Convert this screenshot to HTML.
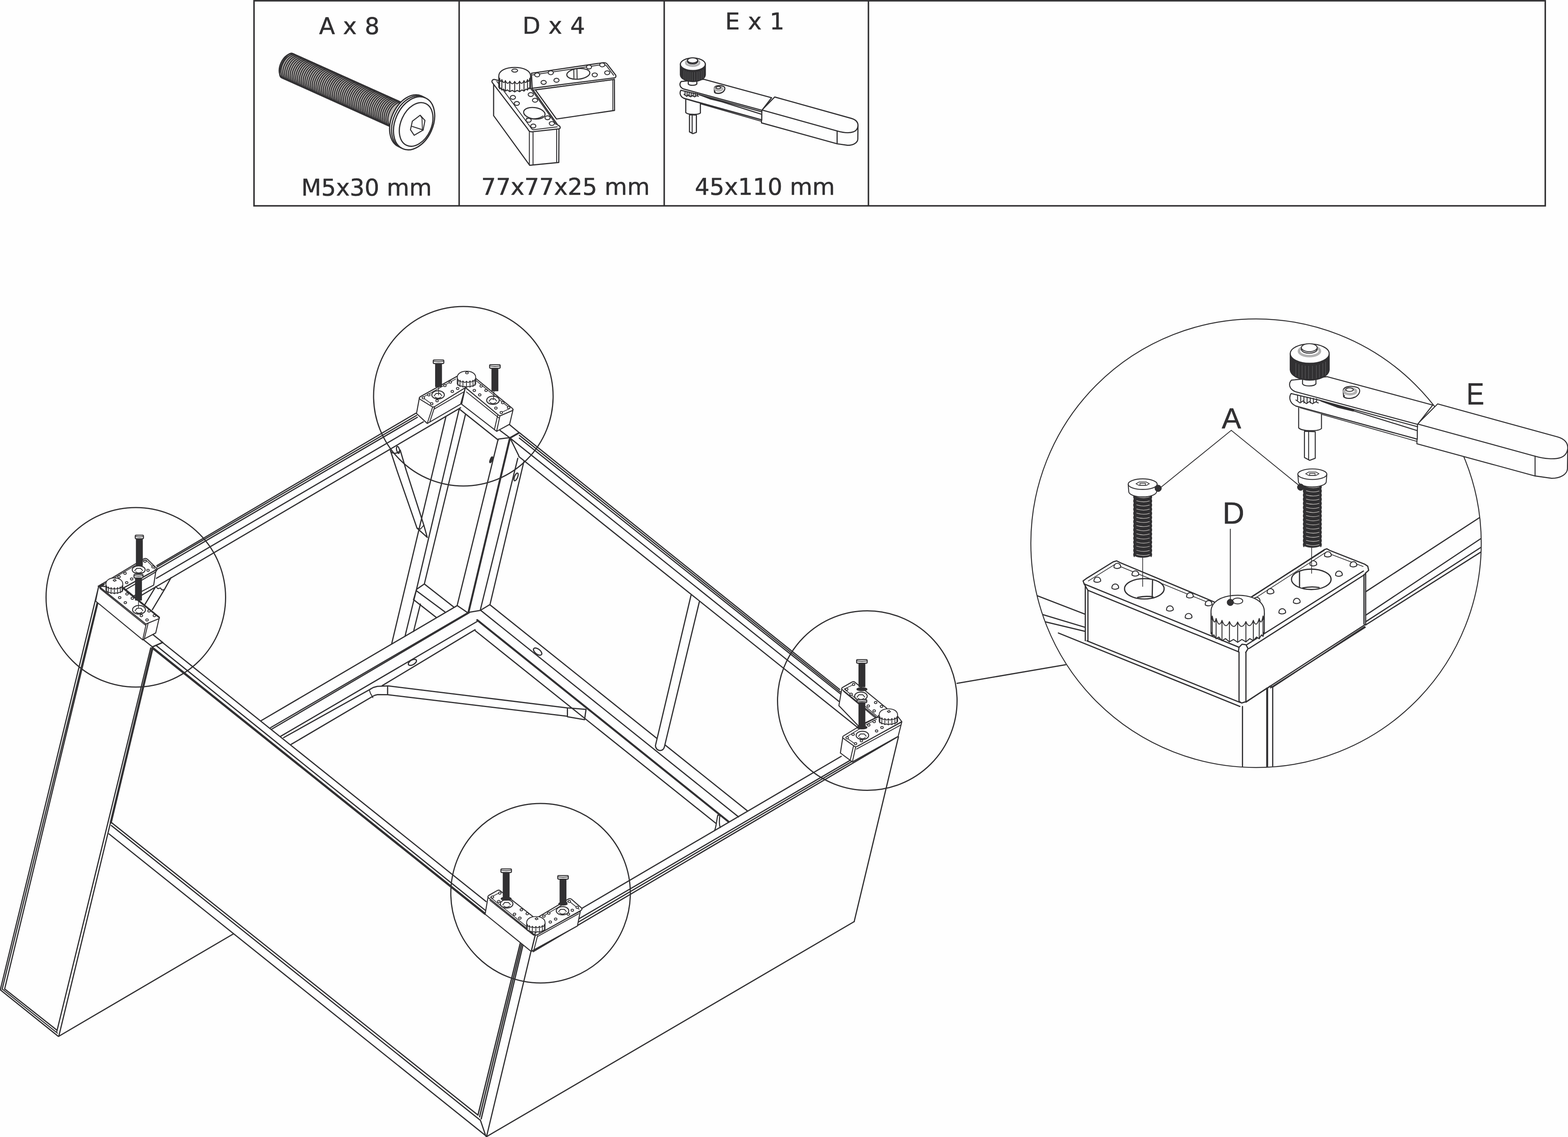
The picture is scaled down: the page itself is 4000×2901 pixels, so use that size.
<!DOCTYPE html>
<html><head><meta charset="utf-8"><title>Assembly step</title>
<style>
html,body{margin:0;padding:0;background:#fefefe;}
body{width:4000px;height:2901px;overflow:hidden;}
svg{display:block;}
svg .f{fill:#313032;}
svg .wf{fill:#fefefe;}
svg text{fill:#313032;stroke:#313032;stroke-width:0.7px;stroke-linejoin:round;}
.dv{font-family:"DejaVu Sans","Liberation Sans",sans-serif;}
.lb{font-family:"Liberation Sans","DejaVu Sans",sans-serif;}
</style></head><body>
<svg width="4000" height="2901" viewBox="0 0 4000 2901" fill="none" stroke="#313032" stroke-width="3.05" stroke-linecap="round" stroke-linejoin="round">
<g id="table">
<rect x="648" y="2" width="3294" height="523.2" stroke-width="3.8" stroke-linejoin="miter"/>
<path d="M1171.3 2 L1171.3 525.2" stroke-width="3.8"/>
<path d="M1694.4 2 L1694.4 525.2" stroke-width="3.8"/>
<path d="M2215.4 2 L2215.4 525.2" stroke-width="3.8"/>
</g>
<g id="labels">
<text x="814" y="86.8" font-size="59.2" class="dv" text-anchor="start" letter-spacing="0.85">A x 8</text>
<text x="1333" y="86" font-size="59.2" class="dv" text-anchor="start" letter-spacing="0.85">D x 4</text>
<text x="1850" y="75" font-size="59.2" class="dv" text-anchor="start" letter-spacing="0.85">E x 1</text>
<text x="768.5" y="498.8" font-size="59.2" class="dv" text-anchor="start">M5x30 mm</text>
<text x="1227.5" y="497" font-size="59.2" class="dv" text-anchor="start">77x77x25 mm</text>
<text x="1772.5" y="497" font-size="59.2" class="dv" text-anchor="start">45x110 mm</text>
</g>
<g id="circles">
<circle cx="1182" cy="1011" r="229" stroke-width="3"/>
<circle cx="346.5" cy="1524" r="229" stroke-width="3"/>
<circle cx="2212.5" cy="1787.5" r="229" stroke-width="3"/>
<circle cx="1379" cy="2279" r="229" stroke-width="3"/>
<path d="M2441.5 1743.5 L2718.5 1696" stroke-width="3"/>
</g>
<g id="rails">
<path d="M400 1443.2 L1061 1054.3"/>
<path d="M401 1446.5 L1062.5 1060"/>
<path d="M402 1451.8 L1064.5 1064.7"/>
<path d="M399 1475.5 L1080 1076.3"/>
<path d="M362 1518.2 L1175 1040.4"/>
<path d="M1325 1104 L2142 1759.1"/>
<path d="M1325 1110.7 L2144 1765.6"/>
<path d="M1325 1117.9 L2146 1771.9"/>
<path d="M1300 1116.7 L2140 1789.5"/>
<path d="M1172 1043.7 L1271 1122.8"/>
<path d="M1323.6 1164.9 L2190 1857.9"/>
<path d="M410 1635.6 L1240 2300.3"/>
<path d="M398 1646.7 L1238 2322.6"/>
<path d="M392 1655.2 L1237 2331.3" stroke-width="5.6"/>
<path d="M1485 2317.3 L2146 1929.7"/>
<path d="M1475 2345.4 L2174 1936.9"/>
<path d="M1474 2353.5 L2174 1942.4"/>
<path d="M1360 2428.1 L2291 1879.1"/>
</g>
<g id="cross">
<path d="M1250 1543.2 L1906.5 2068.7"/>
<path d="M1227.5 1558.3 L1884 2084.3"/>
<path d="M1217.5 1582.1 L1859 2096.9" stroke-width="5"/>
<path d="M1212.5 1609.4 L1826.5 2100.9"/>
<path d="M665.3 1839.3 L1166 1545.4"/>
<path d="M690 1856.8 L1195 1562.3" stroke-width="3"/>
<path d="M693 1860.5 L1197 1563.4" stroke-width="3"/>
<path d="M716.4 1878.4 L1217 1585.8"/>
<path d="M975 1749.4 L1212 1606.6"/>
<path d="M723.5 1882 L945 1758.3"/>
<path d="M742.9 1899.1 L951 1776.6"/>
<ellipse cx="1371.5" cy="1662.5" rx="12.5" ry="6.5" stroke-width="3" transform="rotate(38 1371.5 1662.5)"/>
<ellipse cx="1052" cy="1690" rx="11.5" ry="6" stroke-width="3" transform="rotate(-30 1052 1690)"/>
</g>
<g id="legs">
<path d="M1137.4 1063.7 L999 1643.4"/>
<path d="M1171.2 1044.7 L1062.5 1503.8 L1036.2 1611"/>
<path d="M1036.2 1611 L1033.3 1623.3"/>
<path d="M1187.4 1057.4 L1082.5 1490 L1062.5 1503.8 L1055 1530"/>
<path d="M1082.5 1490 L1157.5 1548.8"/>
<path d="M1062.5 1507.5 L1135 1561.2"/>
<path d="M1055 1530 L1112.5 1575"/>
<path d="M1072.5 1541.2 L1055 1611"/>
<path d="M1055 1611 L1055.1 1610.5"/>
<path d="M1270.7 1120.9 L1166.2 1545 L1193.8 1563.8"/>
<path d="M1301 1117.4 L1195 1562.5" stroke-width="5"/>
<path d="M1320.8 1169.6 L1225 1557.5 L1195 1562.5"/>
<path d="M1336.3 1178 L1250 1542.5 L1225 1557.5"/>
<ellipse cx="1253.1" cy="1173.1" rx="2.2" ry="7.5" transform="rotate(22 1253.1 1173.1)" stroke-width="3.4" class="f"/>
<ellipse cx="1316.5" cy="1216.8" rx="4" ry="10.5" transform="rotate(22 1316.5 1216.8)" stroke-width="3"/>
<path d="M1298.2 1082.1 L1323.6 1103.2"/>
<path d="M1275.6 1098.3 L1301 1117.4"/>
<path d="M1301 1117.4 L1323.6 1104.7" stroke-width="4.2"/>
<path d="M1271.4 1120.2 L1301 1116.4"/>
<path d="M1301 1117.4 L1323.6 1163.2"/>
<path d="M436.3 1473.8 L419.3 1504.4 L388.7 1555.5"/>
<path d="M397.2 1496.8 L369.9 1541.9"/>
<path d="M397.2 1496.8 L403.1 1501.9 L409.1 1500.2 L413.3 1505.3 L419.3 1504.4" stroke-width="2.6"/>
<path d="M996 1149.7 L1012.5 1200 L1063.8 1347.5 L1090 1371.2 L1081.2 1340 L1036.2 1200 L1021 1148.5"/>
<path d="M1063.8 1347.5 L1072.5 1350 L1081.2 1340" stroke-width="2.4"/>
<path d="M996.0 1149.1 C998.5 1158.4 1013.5 1159.7 1021.0 1148.5" stroke-width="2.8"/>
<ellipse cx="1015.4" cy="1147.8" rx="3.6" ry="9" transform="rotate(-12 1015.4 1147.8)" stroke-width="3"/>
</g>
<g id="panels">
<path d="M251.5 1497.5 L0.9 2525"/>
<path d="M248.2 1536 L5.5 2524"/>
<path d="M249.1 1541 L11.7 2524"/>
<path d="M0.8 2525.5 L148.5 2644"/>
<path d="M7 2524.5 L146.5 2636" stroke-width="2.6"/>
<path d="M13.5 2524.5 L144 2627.5"/>
<path d="M384.5 1653 L145 2631.5"/>
<path d="M390 1652 L150 2644"/>
<path d="M389.2 1652.3 L282.6 2099" stroke-width="5.4"/>
<path d="M330 1603.4 L389.6 1651.1"/>
<path d="M388.7 1650.6 L415.1 1639.1" stroke-width="3.6"/>
<path d="M389.6 1618.7 L415.1 1639.1"/>
<path d="M285 2099.2 L1219.5 2845.2"/>
<path d="M284 2106.2 L1225 2858"/>
<path d="M278 2127.6 L1239.3 2897.7"/>
<path d="M1225.8 2858.9 L1239.3 2898.4"/>
<path d="M150 2644 L595 2383"/>
<path d="M1327.6 2405 L1219.5 2844.3" stroke-width="3.3"/>
<path d="M1331.6 2405 L1223.5 2849.5" stroke-width="3.3"/>
<path d="M1335.6 2405 L1227.6 2854.7" stroke-width="3.3"/>
<path d="M1354.3 2428.5 L1241.2 2900"/>
<path d="M1240.5 2900.5 L2179 2351.5"/>
<path d="M2292 1880 L2179 2351.5"/>
</g>
<g id="brace">
<path d="M945 1758.2 L952.5 1754 L962.5 1751.2 L990 1750 L1447.5 1806.2"/>
<path d="M951 1776.5 L956.2 1774 L963.2 1772.2 L988.8 1772.5 L1447.5 1827.5"/>
<path d="M942 1760 L945 1768.8 L951.2 1780" stroke-width="2.4"/>
<path d="M988.8 1750.8 L988.8 1772.5"/>
<path d="M1447.5 1806.2 L1447.5 1827.5"/>
<path d="M1762.8 1518.9 L1672.0 1902.5 Q1673.0 1913.0 1683.0 1915.0 Q1693.0 1915.0 1695.0 1905.0 L1784.2 1534.9" class="wf"/>
<path d="M1831.1 2079.6 C1827.3 2096.4 1827.3 2110.5 1822.7 2119.3 M1831.1 2079.6 L1836.4 2080.5 C1834.3 2094.6 1835.0 2105.2 1837.3 2111.4" stroke-width="2.8"/>
<path d="M1450 1806.2 L1495 1810 L1491.2 1836.2 L1447.5 1828.8"/>
</g>
<g id="brackets">
<path d="M 315.5 1500.2 L 401.4 1452.5 L 397.2 1459.3 L 392.1 1492.9 L 363.1 1508.2 L 329.1 1527.4 Z" stroke-width="2.6" class="wf"/>
<path d="M 319.2 1505.3 L 397.2 1459.3" stroke-width="2.6"/>
<path d="M 251.7 1495.1 L 366.5 1426.2 C 369.9 1424.1 373.7 1424.8 376.4 1427.2 L 401.4 1452.0 L 315.5 1499.7 Z" stroke-width="2.6" class="wf"/>
<path d="M 255.9 1495.6 L 367.4 1429.6 C 369.9 1428.2 372.5 1428.7 374.2 1430.4 L 397.2 1453.4" stroke-width="1.8"/>
<path d="M 251.7 1496.3 L 244.0 1533.7 L 364.0 1632.4 L 397.2 1615.0 L 406.0 1577.2 L 373.0 1591.5 Z" stroke-width="2.6" class="wf"/>
<path d="M 373.0 1591.5 L 364.0 1632.4 M 377.6 1591.2 L 368.2 1630.0" stroke-width="2.4"/>
<path d="M 251.7 1495.6 L 315.5 1499.7 L 405.7 1574.2 C 407.4 1576.2 407.0 1577.9 405.3 1578.6 L 373.7 1591.5 C 371.6 1592.2 370.3 1591.2 369.1 1589.8 Z" stroke-width="2.6" class="wf"/>
<path d="M 312.1 1499.3 L 405.7 1575.0" stroke-width="4"/>
<path d="M 254.6 1501.4 L 370.8 1594.9" stroke-width="2.2"/>
<path d="M 250.0 1495.6 L 261.0 1489.1 L 266.2 1491.7 L 254.6 1499.3 Z" stroke-width="2" class="f"/>
<ellipse cx="318.9" cy="1462.7" rx="3.3" ry="2.7" class="wf" stroke-width="2"/>
<ellipse cx="303.6" cy="1471.8" rx="3.3" ry="2.7" class="wf" stroke-width="2"/>
<ellipse cx="335.9" cy="1477.2" rx="3.3" ry="2.7" class="wf" stroke-width="2"/>
<ellipse cx="323.2" cy="1486.6" rx="3.3" ry="2.7" class="wf" stroke-width="2"/>
<ellipse cx="369.9" cy="1432.1" rx="3.3" ry="2.7" class="wf" stroke-width="2"/>
<ellipse cx="390.4" cy="1446.6" rx="3.3" ry="2.7" class="wf" stroke-width="2"/>
<ellipse cx="377.6" cy="1455.1" rx="3.3" ry="2.7" class="wf" stroke-width="2"/>
<ellipse cx="324.0" cy="1515.5" rx="3.3" ry="2.7" class="wf" stroke-width="2"/>
<ellipse cx="305.3" cy="1524.8" rx="3.3" ry="2.7" class="wf" stroke-width="2"/>
<ellipse cx="337.6" cy="1526.5" rx="3.3" ry="2.7" class="wf" stroke-width="2"/>
<ellipse cx="319.7" cy="1537.6" rx="3.3" ry="2.7" class="wf" stroke-width="2"/>
<ellipse cx="380.2" cy="1558.9" rx="3.3" ry="2.7" class="wf" stroke-width="2"/>
<ellipse cx="360.6" cy="1570.8" rx="3.3" ry="2.7" class="wf" stroke-width="2"/>
<ellipse cx="393.8" cy="1570.8" rx="3.3" ry="2.7" class="wf" stroke-width="2"/>
<ellipse cx="375.1" cy="1581.8" rx="3.3" ry="2.7" class="wf" stroke-width="2"/>
<ellipse cx="353.8" cy="1453.7" rx="16.5" ry="10.0" class="wf" stroke-width="2.6"/>
<path d="M343.6 1456.2 l5.0 -6.0 l10.2 0 l5.0 5.5 M346.4 1459.2 q7.4 5.5 14.8 0" stroke-width="2.2"/>
<ellipse cx="354.6" cy="1555.8" rx="16.5" ry="11.0" class="wf" stroke-width="2.6"/>
<path d="M344.4 1558.6 l5.0 -6.6 l10.2 0 l5.0 6.1 M347.2 1561.9 q7.4 6.1 14.8 0" stroke-width="2.2"/>
<path d="M270.2 1490.4 L270.2 1506.4 L270.6 1506.0 L271.8 1509.6 L273.8 1509.0 L276.5 1512.3 L279.7 1511.3 L283.4 1514.1 L287.5 1512.5 L291.7 1514.7 L295.9 1512.5 L299.9 1514.1 L303.6 1511.3 L306.9 1512.3 L309.6 1509.0 L311.5 1509.6 L312.8 1506.0 L313.2 1506.4 L313.2 1490.4 C313.2 1480.1 303.5 1474.7 291.7 1474.7 C279.8 1474.7 270.2 1480.1 270.2 1490.4 Z" class="wf" stroke-width="2.2"/>
<path d="M271.8 1495.6 L271.8 1509.6 M276.5 1498.3 L276.5 1512.3 M283.4 1500.1 L283.4 1514.1 M291.7 1500.7 L291.7 1514.7 M299.9 1500.1 L299.9 1514.1 M306.9 1498.3 L306.9 1512.3 M311.5 1495.6 L311.5 1509.6 M270.2 1491.6 Q271.0 1500.0 271.8 1494.8 M271.8 1494.8 Q274.1 1502.9 276.5 1497.5 M276.5 1497.5 Q280.0 1505.2 283.4 1499.3 M283.4 1499.3 Q287.6 1506.4 291.7 1499.9 M291.7 1499.9 Q295.8 1506.4 299.9 1499.3 M299.9 1499.3 Q303.4 1505.2 306.9 1497.5 M306.9 1497.5 Q309.2 1502.9 311.5 1494.8 M311.5 1494.8 Q312.4 1500.0 313.2 1491.6 " stroke-width="1.9800000000000002"/>
<path d="M288.5 1480.3 l5 -2.5 l3 3.5 l-5 2 Z" stroke-width="2"/>
<path d="M347.9 1374.0 L347.9 1443.0 L363.1 1443.0 L363.1 1374.0 Z" class="f" stroke-width="2.4"/>
<path d="M347.0 1365.5 Q345.0 1365.5 345.0 1368.0 L345.0 1372.0 Q345.0 1374.6 348.0 1374.6 L363.0 1374.6 Q366.0 1374.6 366.0 1372.0 L366.0 1368.0 Q366.0 1365.5 364.0 1365.5 Z" class="wf" stroke-width="2.6"/>
<path d="M346.0 1368.9 Q355.5 1371.1 365.0 1368.9" stroke-width="1.8"/>
<path d="M353.3 1530 L353.3 1550" stroke-width="1.8"/>
<path d="M345.7 1474.0 L345.7 1531.0 L360.9 1531.0 L360.9 1474.0 Z" class="f" stroke-width="2.4"/>
<path d="M343.8 1465.5 Q341.8 1465.5 341.8 1468.0 L341.8 1472.0 Q341.8 1474.6 344.8 1474.6 L361.8 1474.6 Q364.8 1474.6 364.8 1472.0 L364.8 1468.0 Q364.8 1465.5 362.8 1465.5 Z" class="wf" stroke-width="2.6"/>
<path d="M342.8 1468.9 Q353.3 1471.1 363.8 1468.9" stroke-width="1.8"/>
<path d="M 1070.0 1014.5 L 1062.5 1055.0 L 1090.0 1080.5 L 1175.0 1031.2 L 1187.0 988.8 L 1103.8 1037.5 Z" stroke-width="2.6" class="wf"/>
<path d="M 1103.8 1038.0 L 1090.0 1080.0 M 1109.5 1036.2 L 1096.2 1077.0" stroke-width="2.4"/>
<path d="M 1107.5 1043.8 L 1183.8 999.5" stroke-width="2.2"/>
<path d="M 1187.0 988.8 L 1177.5 1031.2 L 1267.0 1100.5 L 1300.0 1082.5 L 1309.0 1044.5 L 1275.5 1060.5 Z" stroke-width="2.6" class="wf"/>
<path d="M 1275.5 1060.5 L 1267.0 1100.0 M 1269.5 1060.0 L 1261.2 1096.2" stroke-width="2.4"/>
<path d="M 1190.0 1000.0 L 1272.5 1066.2" stroke-width="2.2"/>
<path d="M 1187.0 988.8 L 1177.5 1031.2" stroke-width="2.6"/>
<path d="M 1166.2 960.0 L 1072.5 1012.0 C 1069.0 1014.0 1069.0 1017.0 1072.0 1019.0 L 1102.0 1037.5 C 1104.5 1039.0 1107.0 1038.5 1109.5 1037.0 L 1187.5 988.8 Z" stroke-width="2.6" class="wf"/>
<path d="M 1162.5 967.0 L 1078.0 1014.0 L 1103.8 1032.5" stroke-width="1.8"/>
<path d="M 1210.0 962.5 L 1306.2 1041.2 C 1309.5 1044.0 1309.0 1046.5 1306.0 1048.0 L 1278.0 1060.0 C 1275.5 1061.0 1273.5 1060.5 1271.5 1059.0 L 1187.5 988.8 Z" stroke-width="2.6" class="wf"/>
<path d="M 1212.5 969.5 L 1301.2 1042.0 L 1276.2 1053.8" stroke-width="1.8"/>
<ellipse cx="1148.8" cy="975.0" rx="3.3" ry="2.7" class="wf" stroke-width="2"/>
<ellipse cx="1135.0" cy="983.8" rx="3.3" ry="2.7" class="wf" stroke-width="2"/>
<ellipse cx="1167.5" cy="991.2" rx="3.3" ry="2.7" class="wf" stroke-width="2"/>
<ellipse cx="1153.8" cy="998.8" rx="3.3" ry="2.7" class="wf" stroke-width="2"/>
<ellipse cx="1093.8" cy="1007.5" rx="3.3" ry="2.7" class="wf" stroke-width="2"/>
<ellipse cx="1080.0" cy="1015.0" rx="3.3" ry="2.7" class="wf" stroke-width="2"/>
<ellipse cx="1115.0" cy="1022.5" rx="3.3" ry="2.7" class="wf" stroke-width="2"/>
<ellipse cx="1101.2" cy="1030.0" rx="3.3" ry="2.7" class="wf" stroke-width="2"/>
<ellipse cx="1227.5" cy="985.0" rx="3.3" ry="2.7" class="wf" stroke-width="2"/>
<ellipse cx="1240.0" cy="996.2" rx="3.3" ry="2.7" class="wf" stroke-width="2"/>
<ellipse cx="1210.0" cy="996.2" rx="3.3" ry="2.7" class="wf" stroke-width="2"/>
<ellipse cx="1223.8" cy="1007.5" rx="3.3" ry="2.7" class="wf" stroke-width="2"/>
<ellipse cx="1282.5" cy="1027.5" rx="3.3" ry="2.7" class="wf" stroke-width="2"/>
<ellipse cx="1297.5" cy="1040.0" rx="3.3" ry="2.7" class="wf" stroke-width="2"/>
<ellipse cx="1265.0" cy="1041.2" rx="3.3" ry="2.7" class="wf" stroke-width="2"/>
<ellipse cx="1278.8" cy="1052.5" rx="3.3" ry="2.7" class="wf" stroke-width="2"/>
<ellipse cx="1117.5" cy="1007.5" rx="16.0" ry="10.5" class="wf" stroke-width="2.6"/>
<path d="M1107.6 1010.1 l4.8 -6.3 l9.9 0 l4.8 5.8 M1110.3 1013.3 q7.2 5.8 14.4 0" stroke-width="2.2"/>
<ellipse cx="1257.5" cy="1021.2" rx="16.0" ry="10.5" class="wf" stroke-width="2.6"/>
<path d="M1247.6 1023.9 l4.8 -6.3 l9.9 0 l4.8 5.8 M1250.3 1027.0 q7.2 5.8 14.4 0" stroke-width="2.2"/>
<path d="M1166.5 963.0 L1166.5 979.8 L1167.0 979.3 L1168.3 983.0 L1170.5 982.3 L1173.4 985.7 L1176.9 984.6 L1181.0 987.4 L1185.4 985.8 L1190.0 988.1 L1194.6 985.8 L1199.0 987.4 L1203.1 984.6 L1206.6 985.7 L1209.5 982.3 L1211.7 983.0 L1213.0 979.3 L1213.5 979.8 L1213.5 963.0 C1213.5 952.6 1202.9 947.2 1190.0 947.2 C1177.1 947.2 1166.5 952.6 1166.5 963.0 Z" class="wf" stroke-width="2.2"/>
<path d="M1168.3 968.3 L1168.3 983.0 M1173.4 971.0 L1173.4 985.7 M1181.0 972.7 L1181.0 987.4 M1190.0 973.4 L1190.0 988.1 M1199.0 972.7 L1199.0 987.4 M1206.6 971.0 L1206.6 985.7 M1211.7 968.3 L1211.7 983.0 M1166.5 964.3 Q1167.4 973.0 1168.3 967.4 M1168.3 967.4 Q1170.8 975.9 1173.4 970.1 M1173.4 970.1 Q1177.2 978.2 1181.0 971.9 M1181.0 971.9 Q1185.5 979.4 1190.0 972.5 M1190.0 972.5 Q1194.5 979.4 1199.0 971.9 M1199.0 971.9 Q1202.8 978.2 1206.6 970.1 M1206.6 970.1 Q1209.2 975.9 1211.7 967.4 M1211.7 967.4 Q1212.6 973.0 1213.5 964.3 " stroke-width="1.9800000000000002"/>
<ellipse cx="1191.2" cy="951.2" rx="3.5" ry="2.5" stroke-width="2"/>
<path d="M1118.8 985 L1118.8 1008" stroke-width="1.8"/>
<path d="M1111.2 927.0 L1111.2 986.5 L1126.3 986.5 L1126.3 927.0 Z" class="f" stroke-width="2.4"/>
<path d="M1107.2 918.5 Q1105.2 918.5 1105.2 921.0 L1105.2 925.0 Q1105.2 927.6 1108.2 927.6 L1129.2 927.6 Q1132.2 927.6 1132.2 925.0 L1132.2 921.0 Q1132.2 918.5 1130.2 918.5 Z" class="wf" stroke-width="2.6"/>
<path d="M1106.2 921.9 Q1118.8 924.1 1131.2 921.9" stroke-width="1.8"/>
<path d="M1260.5 996 L1258.5 1020" stroke-width="1.8"/>
<path d="M1254.9 939.0 L1254.9 997.0 L1270.1 997.0 L1270.1 939.0 Z" class="f" stroke-width="2.4"/>
<path d="M1251.0 930.5 Q1249.0 930.5 1249.0 933.0 L1249.0 937.0 Q1249.0 939.6 1252.0 939.6 L1273.0 939.6 Q1276.0 939.6 1276.0 937.0 L1276.0 933.0 Q1276.0 930.5 1274.0 930.5 Z" class="wf" stroke-width="2.6"/>
<path d="M1250.0 933.9 Q1262.5 936.1 1275.0 933.9" stroke-width="1.8"/>
<path d="M 2147.5 1757.0 L 2140.0 1800.5 L 2190.0 1852.5 L 2236.2 1830.5 Z" stroke-width="2.6" class="wf"/>
<path d="M 2152.0 1763.8 L 2233.8 1832.5" stroke-width="2.2"/>
<path d="M 2180.0 1740.0 C 2177.5 1738.5 2175.5 1739.0 2173.0 1740.5 L 2149.5 1753.8 C 2146.5 1755.5 2146.5 1758.0 2149.0 1760.0 L 2236.2 1830.5 L 2262.5 1807.5 Z" stroke-width="2.6" class="wf"/>
<path d="M 2180.0 1745.5 L 2153.8 1758.0 L 2236.2 1826.2" stroke-width="1.8"/>
<path d="M 2150.0 1881.2 L 2143.8 1921.2 L 2174.5 1944.0 L 2291.2 1878.8 L 2300.5 1842.0 L 2183.0 1905.0 Z" stroke-width="2.6" class="wf"/>
<path d="M 2183.0 1905.0 L 2174.5 1943.8 M 2177.5 1902.5 L 2168.8 1940.0" stroke-width="2.4"/>
<path d="M 2185.0 1911.2 L 2297.5 1850.0" stroke-width="2.2"/>
<path d="M 2190.0 1854.5 L 2152.0 1877.5 C 2149.0 1879.5 2149.0 1882.0 2151.5 1884.0 L 2180.0 1904.5 C 2182.5 1906.0 2185.0 1905.5 2187.5 1904.0 L 2300.5 1841.2 L 2290.0 1827.5 L 2236.2 1830.5 Z" stroke-width="2.6" class="wf"/>
<path d="M 2236.2 1830.5 L 2190.0 1854.5" stroke-width="2.6"/>
<path d="M 2193.0 1858.0 L 2236.2 1835.0" stroke-width="1.8"/>
<path d="M 2192.5 1860.0 L 2157.5 1881.2 L 2182.5 1898.8" stroke-width="1.8"/>
<ellipse cx="2177.5" cy="1746.2" rx="3.3" ry="2.7" class="wf" stroke-width="2"/>
<ellipse cx="2160.0" cy="1758.8" rx="3.3" ry="2.7" class="wf" stroke-width="2"/>
<ellipse cx="2171.2" cy="1771.2" rx="3.3" ry="2.7" class="wf" stroke-width="2"/>
<ellipse cx="2233.8" cy="1792.5" rx="3.3" ry="2.7" class="wf" stroke-width="2"/>
<ellipse cx="2248.8" cy="1802.5" rx="3.3" ry="2.7" class="wf" stroke-width="2"/>
<ellipse cx="2215.0" cy="1801.2" rx="3.3" ry="2.7" class="wf" stroke-width="2"/>
<ellipse cx="2230.0" cy="1813.8" rx="3.3" ry="2.7" class="wf" stroke-width="2"/>
<ellipse cx="2230.0" cy="1841.2" rx="3.3" ry="2.7" class="wf" stroke-width="2"/>
<ellipse cx="2216.2" cy="1850.0" rx="3.3" ry="2.7" class="wf" stroke-width="2"/>
<ellipse cx="2250.0" cy="1856.2" rx="3.3" ry="2.7" class="wf" stroke-width="2"/>
<ellipse cx="2236.2" cy="1865.0" rx="3.3" ry="2.7" class="wf" stroke-width="2"/>
<ellipse cx="2176.2" cy="1873.8" rx="3.3" ry="2.7" class="wf" stroke-width="2"/>
<ellipse cx="2161.2" cy="1882.5" rx="3.3" ry="2.7" class="wf" stroke-width="2"/>
<ellipse cx="2197.5" cy="1890.0" rx="3.3" ry="2.7" class="wf" stroke-width="2"/>
<ellipse cx="2182.5" cy="1897.5" rx="3.3" ry="2.7" class="wf" stroke-width="2"/>
<ellipse cx="2196.2" cy="1776.2" rx="16.0" ry="10.5" class="wf" stroke-width="2.6"/>
<path d="M2186.3 1778.9 l4.8 -6.3 l9.9 0 l4.8 5.8 M2189.1 1782.0 q7.2 5.8 14.4 0" stroke-width="2.2"/>
<ellipse cx="2200.0" cy="1876.2" rx="16.0" ry="10.5" class="wf" stroke-width="2.6"/>
<path d="M2190.1 1878.9 l4.8 -6.3 l9.9 0 l4.8 5.8 M2192.8 1882.0 q7.2 5.8 14.4 0" stroke-width="2.2"/>
<path d="M2242.8 1824.2 L2242.8 1841.0 L2243.2 1840.6 L2244.5 1844.2 L2246.7 1843.6 L2249.6 1846.9 L2253.2 1845.8 L2257.3 1848.7 L2261.7 1847.1 L2266.2 1849.3 L2270.8 1847.1 L2275.2 1848.7 L2279.3 1845.8 L2282.9 1846.9 L2285.8 1843.6 L2288.0 1844.2 L2289.3 1840.6 L2289.8 1841.0 L2289.8 1824.2 C2289.8 1813.9 2279.2 1808.5 2266.2 1808.5 C2253.3 1808.5 2242.8 1813.9 2242.8 1824.2 Z" class="wf" stroke-width="2.2"/>
<path d="M2244.5 1829.5 L2244.5 1844.2 M2249.6 1832.2 L2249.6 1846.9 M2257.3 1834.0 L2257.3 1848.7 M2266.2 1834.6 L2266.2 1849.3 M2275.2 1834.0 L2275.2 1848.7 M2282.9 1832.2 L2282.9 1846.9 M2288.0 1829.5 L2288.0 1844.2 M2242.8 1825.5 Q2243.6 1834.2 2244.5 1828.7 M2244.5 1828.7 Q2247.1 1837.2 2249.6 1831.4 M2249.6 1831.4 Q2253.4 1839.4 2257.3 1833.2 M2257.3 1833.2 Q2261.8 1840.6 2266.2 1833.8 M2266.2 1833.8 Q2270.7 1840.6 2275.2 1833.2 M2275.2 1833.2 Q2279.1 1839.4 2282.9 1831.4 M2282.9 1831.4 Q2285.4 1837.2 2288.0 1828.7 M2288.0 1828.7 Q2288.9 1834.2 2289.8 1825.5 " stroke-width="1.9800000000000002"/>
<path d="M2263.5 1815.0 l5 -2.5 l3 3.5 l-5 2 Z" stroke-width="2"/>
<path d="M2191.2 1691.5 L2191.2 1752.0 L2206.3 1752.0 L2206.3 1691.5 Z" class="f" stroke-width="2.4"/>
<path d="M2187.2 1683.0 Q2185.2 1683.0 2185.2 1685.5 L2185.2 1689.5 Q2185.2 1692.1 2188.2 1692.1 L2209.2 1692.1 Q2212.2 1692.1 2212.2 1689.5 L2212.2 1685.5 Q2212.2 1683.0 2210.2 1683.0 Z" class="wf" stroke-width="2.6"/>
<path d="M2186.2 1686.4 Q2198.8 1688.6 2211.2 1686.4" stroke-width="1.8"/>
<ellipse cx="2198.8" cy="1758.5" rx="13" ry="4" class="f" stroke-width="2"/>
<path d="M2191.2 1792.0 L2191.2 1851.0 L2206.3 1851.0 L2206.3 1792.0 Z" class="f" stroke-width="2.4"/>
<path d="M2188.2 1785.0 Q2186.2 1785.0 2186.2 1787.5 L2186.2 1790.0 Q2186.2 1792.6 2189.2 1792.6 L2208.2 1792.6 Q2211.2 1792.6 2211.2 1790.0 L2211.2 1787.5 Q2211.2 1785.0 2209.2 1785.0 Z" class="wf" stroke-width="2.6"/>
<path d="M2187.2 1788.4 Q2198.8 1790.6 2210.2 1788.4" stroke-width="1.8"/>
<ellipse cx="2198.8" cy="1856" rx="13" ry="4" class="f" stroke-width="2"/>
<path d="M 1245.0 2288.8 L 1237.5 2332.5 L 1355.0 2427.5 L 1365.0 2387.0 Z" stroke-width="2.6" class="wf"/>
<path d="M 1249.5 2297.0 L 1361.2 2386.2" stroke-width="2.2"/>
<path d="M 1365.0 2387.0 L 1355.0 2427.5 L 1473.0 2362.5 L 1480.5 2324.5 Z" stroke-width="2.6" class="wf"/>
<path d="M 1371.2 2389.5 L 1476.2 2331.2" stroke-width="2.2"/>
<path d="M 1365.5 2387.0 L 1355.5 2427.5 M 1371.2 2388.0 L 1362.0 2423.8" stroke-width="2.4"/>
<path d="M 1275.0 2272.0 C 1272.5 2270.5 1270.5 2271.0 1268.0 2272.5 L 1247.0 2284.5 C 1244.0 2286.5 1244.0 2289.0 1246.5 2291.0 L 1365.0 2386.2 L 1366.2 2343.8 Z" stroke-width="2.6" class="wf"/>
<path d="M 1275.0 2277.5 L 1251.2 2289.5 L 1360.0 2377.5" stroke-width="1.8"/>
<path d="M 1366.2 2343.8 L 1450.0 2293.8 C 1453.0 2292.0 1455.5 2292.5 1458.0 2294.5 L 1483.0 2316.2 C 1485.5 2318.8 1485.0 2321.2 1482.0 2323.0 L 1370.0 2385.5 L 1365.0 2386.2 Z" stroke-width="2.6" class="wf"/>
<path d="M 1383.8 2338.8 L 1451.2 2298.8 L 1477.5 2320.0" stroke-width="1.8"/>
<ellipse cx="1275.0" cy="2278.8" rx="3.3" ry="2.7" class="wf" stroke-width="2"/>
<ellipse cx="1256.2" cy="2288.8" rx="3.3" ry="2.7" class="wf" stroke-width="2"/>
<ellipse cx="1272.5" cy="2300.0" rx="3.3" ry="2.7" class="wf" stroke-width="2"/>
<ellipse cx="1330.0" cy="2321.2" rx="3.3" ry="2.7" class="wf" stroke-width="2"/>
<ellipse cx="1345.0" cy="2331.2" rx="3.3" ry="2.7" class="wf" stroke-width="2"/>
<ellipse cx="1312.5" cy="2332.5" rx="3.3" ry="2.7" class="wf" stroke-width="2"/>
<ellipse cx="1326.2" cy="2342.5" rx="3.3" ry="2.7" class="wf" stroke-width="2"/>
<ellipse cx="1400.0" cy="2330.0" rx="3.3" ry="2.7" class="wf" stroke-width="2"/>
<ellipse cx="1387.5" cy="2337.5" rx="3.3" ry="2.7" class="wf" stroke-width="2"/>
<ellipse cx="1417.5" cy="2345.0" rx="3.3" ry="2.7" class="wf" stroke-width="2"/>
<ellipse cx="1403.8" cy="2352.5" rx="3.3" ry="2.7" class="wf" stroke-width="2"/>
<ellipse cx="1452.5" cy="2300.0" rx="3.3" ry="2.7" class="wf" stroke-width="2"/>
<ellipse cx="1472.5" cy="2315.0" rx="3.3" ry="2.7" class="wf" stroke-width="2"/>
<ellipse cx="1460.0" cy="2322.5" rx="3.3" ry="2.7" class="wf" stroke-width="2"/>
<ellipse cx="1450.0" cy="2332.5" rx="3.3" ry="2.7" class="wf" stroke-width="2"/>
<ellipse cx="1292.5" cy="2306.2" rx="16.0" ry="10.5" class="wf" stroke-width="2.6"/>
<path d="M1282.6 2308.9 l4.8 -6.3 l9.9 0 l4.8 5.8 M1285.3 2312.0 q7.2 5.8 14.4 0" stroke-width="2.2"/>
<ellipse cx="1435.0" cy="2323.8" rx="16.0" ry="10.5" class="wf" stroke-width="2.6"/>
<path d="M1425.1 2326.4 l4.8 -6.3 l9.9 0 l4.8 5.8 M1427.8 2329.5 q7.2 5.8 14.4 0" stroke-width="2.2"/>
<path d="M1343.5 2354.2 L1343.5 2371.1 L1344.0 2370.6 L1345.3 2374.2 L1347.5 2373.6 L1350.4 2376.9 L1353.9 2375.8 L1358.0 2378.7 L1362.4 2377.1 L1367.0 2379.3 L1371.6 2377.1 L1376.0 2378.7 L1380.1 2375.8 L1383.6 2376.9 L1386.5 2373.6 L1388.7 2374.2 L1390.0 2370.6 L1390.5 2371.1 L1390.5 2354.2 C1390.5 2343.9 1379.9 2338.5 1367.0 2338.5 C1354.1 2338.5 1343.5 2343.9 1343.5 2354.2 Z" class="wf" stroke-width="2.2"/>
<path d="M1345.3 2359.5 L1345.3 2374.2 M1350.4 2362.2 L1350.4 2376.9 M1358.0 2364.0 L1358.0 2378.7 M1367.0 2364.6 L1367.0 2379.3 M1376.0 2364.0 L1376.0 2378.7 M1383.6 2362.2 L1383.6 2376.9 M1388.7 2359.5 L1388.7 2374.2 M1343.5 2355.5 Q1344.4 2364.2 1345.3 2358.7 M1345.3 2358.7 Q1347.8 2367.2 1350.4 2361.4 M1350.4 2361.4 Q1354.2 2369.4 1358.0 2363.2 M1358.0 2363.2 Q1362.5 2370.6 1367.0 2363.8 M1367.0 2363.8 Q1371.5 2370.6 1376.0 2363.2 M1376.0 2363.2 Q1379.8 2369.4 1383.6 2361.4 M1383.6 2361.4 Q1386.2 2367.2 1388.7 2358.7 M1388.7 2358.7 Q1389.6 2364.2 1390.5 2355.5 " stroke-width="1.9800000000000002"/>
<path d="M1364.8 2343.8 l5 -2.5 l3 3.5 l-5 2 Z" stroke-width="2"/>
<path d="M1283.7 2225.5 L1283.7 2290.0 L1298.8 2290.0 L1298.8 2225.5 Z" class="f" stroke-width="2.4"/>
<path d="M1279.8 2217.0 Q1277.8 2217.0 1277.8 2219.5 L1277.8 2223.5 Q1277.8 2226.1 1280.8 2226.1 L1301.8 2226.1 Q1304.8 2226.1 1304.8 2223.5 L1304.8 2219.5 Q1304.8 2217.0 1302.8 2217.0 Z" class="wf" stroke-width="2.6"/>
<path d="M1278.8 2220.4 Q1291.2 2222.6 1303.8 2220.4" stroke-width="1.8"/>
<ellipse cx="1291.2" cy="2293" rx="13" ry="4" class="f" stroke-width="2"/>
<path d="M1428.7 2242.5 L1428.7 2303.0 L1443.8 2303.0 L1443.8 2242.5 Z" class="f" stroke-width="2.4"/>
<path d="M1424.8 2234.0 Q1422.8 2234.0 1422.8 2236.5 L1422.8 2240.5 Q1422.8 2243.1 1425.8 2243.1 L1446.8 2243.1 Q1449.8 2243.1 1449.8 2240.5 L1449.8 2236.5 Q1449.8 2234.0 1447.8 2234.0 Z" class="wf" stroke-width="2.6"/>
<path d="M1423.8 2237.4 Q1436.2 2239.6 1448.8 2237.4" stroke-width="1.8"/>
<ellipse cx="1436.2" cy="2306" rx="11" ry="3.5" class="f" stroke-width="2"/>
</g>
<g id="detail">
<ellipse cx="3204.2" cy="1386" rx="574.5" ry="572.3" stroke-width="2.5" class="wf"/>
<clipPath id="dc"><ellipse cx="3204.2" cy="1386" rx="573.8" ry="571.6"/></clipPath>
<g clip-path="url(#dc)">
<path d="M2621.2 1510.4 L2767.5 1566.8"/>
<path d="M2621.2 1556.3 L2767.5 1600.4"/>
<path d="M2621.2 1575.7 L2768.6 1610.9"/>
<path d="M2700 1615.1 L3163 1802.5"/>
<path d="M2768.6 1492.8 L2768.6 1634.6"/>
<path d="M2775.3 1506.2 L2775.3 1636"/>
<path d="M2772.8 1635 L3163.8 1792.4"/>
<path d="M2765.8 1489.9 L2763 1482.2 L2772.8 1475.1 L2839.9 1433.5 L2848.7 1431 L2857.5 1435.6 L3097.4 1535.8"/>
<path d="M2776.4 1482.2 L2844.1 1439.9 L3092.1 1541.4" stroke-width="1.8"/>
<path d="M2765.8 1489.9 L2775.3 1506.2"/>
<path d="M2765.8 1489.9 L3160.8 1651.5"/>
<path d="M2775.3 1506.2 L3159.1 1662.8"/>
<path d="M3160.8 1651.5 L3168.6 1643.7 L3178.5 1645.1 L3183.8 1655"/>
<path d="M3160.8 1651.5 L3159.1 1662.8"/>
<path d="M3183.8 1655 L3177.8 1664.9"/>
<path d="M3160.8 1663.6 L3160.8 1789.3 L3167.4 1793.7 L3178.4 1790.2 L3178.4 1663.6"/>
<path d="M3192.6 1522.8 L3377.8 1403.9"/>
<path d="M3191.7 1524 L3378.7 1402.3 L3385 1400.2 L3392.1 1404.4 L3481 1439.3 L3489.1 1444.6 L3491.5 1455.2 L3482.7 1463"/>
<path d="M3197 1529.3 L3382.2 1409.3 L3477.4 1445.3" stroke-width="1.8"/>
<path d="M3186.4 1654.5 L3481.7 1465.8"/>
<path d="M3180.4 1645 L3478.1 1457"/>
<path d="M3479.5 1465.8 L3479.5 1592.1"/>
<path d="M3483.8 1463 L3483.8 1594.5"/>
<path d="M3178.3 1791 L3482.7 1593.5"/>
<path d="M3483.8 1509.9 L3784.3 1314.1"/>
<path d="M3483.8 1569.8 L3784.3 1369.8"/>
<path d="M3483.8 1586.4 L3784.3 1392.4"/>
<path d="M3483.8 1594.5 L3784.3 1404.4"/>
<path d="M3241.1 1755 L3482.7 1600.5"/>
<path d="M3169.6 1802.5 L3169.6 1959"/>
<path d="M3178.4 1791.5 L3231.3 1756.2"/>
<path d="M3232.6 1756.2 L3232.6 1961.2" stroke-width="5"/>
<path d="M3246.7 1753.1 L3246.7 1959"/>
<path d="M3233.5 1755.8 L3240.1 1750.5 L3246.7 1753.1"/>
<path d="M3246.7 1753.1 L3481.3 1598.8"/>
<ellipse cx="2919.2" cy="1502.3" rx="50.5" ry="26" class="wf"/>
<path d="M2940.2 1479.3 L2939.2 1525.8 M2902.2 1524.3 Q2921.2 1519.8 2941.2 1522.8"/>
<ellipse cx="3345.1" cy="1478.1" rx="50.5" ry="26" class="wf"/>
<path d="M3315.1 1458.1 L3315.1 1498.1 M3323.1 1500.1 Q3345.1 1495.6 3365.1 1499.1"/>
<path d="M2841.8 1447.9 C2841.4 1439.9 2846.6 1437.1 2850.4 1437.1 C2854.7 1437.1 2859.5 1440.6 2859.0 1447.2 C2854.7 1451.4 2846.1 1451.4 2841.8 1447.9 Z" stroke-width="2.4" class="wf"/>
<path d="M2790.7 1483.2 C2790.3 1475.2 2795.4 1472.4 2799.3 1472.4 C2803.6 1472.4 2808.3 1475.9 2807.9 1482.5 C2803.6 1486.7 2795.0 1486.7 2790.7 1483.2 Z" stroke-width="2.4" class="wf"/>
<path d="M2887.7 1467.3 C2887.3 1459.3 2892.4 1456.5 2896.3 1456.5 C2900.6 1456.5 2905.3 1460.0 2904.9 1466.6 C2900.6 1470.8 2892.0 1470.8 2887.7 1467.3 Z" stroke-width="2.4" class="wf"/>
<path d="M2836.5 1500.9 C2836.1 1492.8 2841.3 1490.0 2845.1 1490.0 C2849.4 1490.0 2854.2 1493.5 2853.7 1500.2 C2849.4 1504.4 2840.8 1504.4 2836.5 1500.9 Z" stroke-width="2.4" class="wf"/>
<path d="M3027.0 1523.1 C3026.6 1515.0 3031.8 1512.2 3035.6 1512.2 C3039.9 1512.2 3044.7 1515.7 3044.2 1522.4 C3039.9 1526.6 3031.3 1526.6 3027.0 1523.1 Z" stroke-width="2.4" class="wf"/>
<path d="M2975.9 1556.6 C2975.4 1548.5 2980.6 1545.7 2984.5 1545.7 C2988.8 1545.7 2993.5 1549.2 2993.1 1555.9 C2988.8 1560.1 2980.2 1560.1 2975.9 1556.6 Z" stroke-width="2.4" class="wf"/>
<path d="M3074.6 1543.2 C3074.2 1535.1 3079.4 1532.3 3083.2 1532.3 C3087.5 1532.3 3092.3 1535.8 3091.8 1542.5 C3087.5 1546.7 3078.9 1546.7 3074.6 1543.2 Z" stroke-width="2.4" class="wf"/>
<path d="M3023.5 1576.0 C3023.1 1567.9 3028.2 1565.1 3032.1 1565.1 C3036.4 1565.1 3041.1 1568.6 3040.7 1575.3 C3036.4 1579.5 3027.8 1579.5 3023.5 1576.0 Z" stroke-width="2.4" class="wf"/>
<path d="M3378.9 1418.5 C3378.4 1410.4 3383.6 1407.6 3387.5 1407.6 C3391.8 1407.6 3396.5 1411.1 3396.1 1417.8 C3391.8 1422.0 3383.2 1422.0 3378.9 1418.5 Z" stroke-width="2.4" class="wf"/>
<path d="M3341.8 1441.4 C3341.4 1433.4 3346.6 1430.6 3350.4 1430.6 C3354.7 1430.6 3359.5 1434.1 3359.0 1440.7 C3354.7 1444.9 3346.1 1444.9 3341.8 1441.4 Z" stroke-width="2.4" class="wf"/>
<path d="M3444.1 1443.9 C3443.7 1435.8 3448.9 1433.0 3452.7 1433.0 C3457.0 1433.0 3461.8 1436.5 3461.3 1443.2 C3457.0 1447.4 3448.4 1447.4 3444.1 1443.9 Z" stroke-width="2.4" class="wf"/>
<path d="M3407.1 1467.9 C3406.7 1459.8 3411.8 1457.0 3415.7 1457.0 C3420.0 1457.0 3424.7 1460.5 3424.3 1467.2 C3420.0 1471.4 3411.4 1471.4 3407.1 1467.9 Z" stroke-width="2.4" class="wf"/>
<path d="M3232.5 1512.7 C3232.1 1504.6 3237.2 1501.8 3241.1 1501.8 C3245.4 1501.8 3250.1 1505.3 3249.7 1512.0 C3245.4 1516.2 3236.8 1516.2 3232.5 1512.7 Z" stroke-width="2.4" class="wf"/>
<path d="M3299.5 1537.4 C3299.1 1529.3 3304.2 1526.5 3308.1 1526.5 C3312.4 1526.5 3317.1 1530.0 3316.7 1536.7 C3312.4 1540.9 3303.8 1540.9 3299.5 1537.4 Z" stroke-width="2.4" class="wf"/>
<path d="M3262.5 1563.8 C3262.0 1555.8 3267.2 1553.0 3271.1 1553.0 C3275.4 1553.0 3280.1 1556.5 3279.7 1563.1 C3275.4 1567.3 3266.8 1567.3 3262.5 1563.8 Z" stroke-width="2.4" class="wf"/>
<path d="M3197.2 1534.9 C3196.8 1526.8 3202.0 1524.0 3205.8 1524.0 C3210.1 1524.0 3214.9 1527.5 3214.4 1534.2 C3210.1 1538.4 3201.5 1538.4 3197.2 1534.9 Z" stroke-width="2.4" class="wf"/>
<path d="M3089.3 1560.7 L3089.3 1616.7 L3090.2 1613.2 L3092.6 1623.6 L3096.7 1619.8 L3102.3 1629.7 L3109.2 1625.3 L3117.3 1634.6 L3126.4 1629.4 L3136.3 1637.7 L3146.7 1631.5 L3157.3 1638.8 L3168.0 1631.5 L3178.3 1637.7 L3188.2 1629.4 L3197.3 1634.6 L3205.4 1625.3 L3212.3 1629.7 L3217.9 1619.8 L3222.0 1623.6 L3224.5 1613.2 L3225.3 1616.7 L3225.3 1560.7 C3225.3 1533.1 3194.7 1518.7 3157.3 1518.7 C3119.9 1518.7 3089.3 1533.1 3089.3 1560.7 Z" class="wf" stroke-width="2.6"/>
<path d="M3092.6 1574.6 L3092.6 1623.6 M3102.3 1580.7 L3102.3 1629.7 M3117.3 1585.6 L3117.3 1634.6 M3136.3 1588.7 L3136.3 1637.7 M3157.3 1589.8 L3157.3 1638.8 M3178.3 1588.7 L3178.3 1637.7 M3197.3 1585.6 L3197.3 1634.6 M3212.3 1580.7 L3212.3 1629.7 M3222.0 1574.6 L3222.0 1623.6 M3089.3 1564.9 Q3091.0 1592.1 3092.6 1571.8 M3092.6 1571.8 Q3097.5 1598.6 3102.3 1577.9 M3102.3 1577.9 Q3109.8 1604.2 3117.3 1582.8 M3117.3 1582.8 Q3126.8 1608.2 3136.3 1585.9 M3136.3 1585.9 Q3146.8 1610.3 3157.3 1587.0 M3157.3 1587.0 Q3167.8 1610.3 3178.3 1585.9 M3178.3 1585.9 Q3187.8 1608.2 3197.3 1582.8 M3197.3 1582.8 Q3204.8 1604.2 3212.3 1577.9 M3212.3 1577.9 Q3217.2 1598.6 3222.0 1571.8 M3222.0 1571.8 Q3223.7 1592.1 3225.3 1564.9 " stroke-width="2.3400000000000003"/>
<ellipse cx="3157.3" cy="1533.3" rx="13" ry="7.5" class="wf" stroke-width="2.2"/>
<path d="M2915 1422.2 L2915 1496.3" stroke-width="1.8"/>
<path d="M3346 1390.5 L3346 1462.8" stroke-width="1.8"/>
</g>
<path d="M2893.5 1248.9 L2893.5 1417.4 Q2915.0 1426.4 2936.5 1417.4 L2936.5 1248.9 Z" class="f" stroke-width="2.4"/>
<path d="M2899.5 1267.1 Q2917.1 1272.6 2932.2 1267.6 M2899.5 1277.6 Q2917.1 1283.1 2932.2 1278.2 M2899.5 1288.2 Q2917.1 1293.7 2932.2 1288.7 M2899.5 1298.7 Q2917.1 1304.2 2932.2 1299.2 M2899.5 1309.2 Q2917.1 1314.7 2932.2 1309.8 M2899.5 1319.8 Q2917.1 1325.3 2932.2 1320.3 M2899.5 1330.3 Q2917.1 1335.8 2932.2 1330.8 M2899.5 1340.8 Q2917.1 1346.3 2932.2 1341.4 M2899.5 1351.4 Q2917.1 1356.9 2932.2 1351.9 M2899.5 1361.9 Q2917.1 1367.4 2932.2 1362.4 M2899.5 1372.4 Q2917.1 1377.9 2932.2 1373.0 M2899.5 1383.0 Q2917.1 1388.5 2932.2 1383.5 M2899.5 1393.5 Q2917.1 1399.0 2932.2 1394.0 M2899.5 1404.0 Q2917.1 1409.5 2932.2 1404.6 M2899.5 1414.6 Q2917.1 1420.1 2932.2 1415.1 " style="stroke:#d8d4d0;stroke-width:1.3"/>
<path d="M2893.5 1262.4 q-2.8 5.3 0 10.5 M2936.5 1262.4 q2.8 5.3 0 10.5 M2893.5 1272.9 q-2.8 5.3 0 10.5 M2936.5 1272.9 q2.8 5.3 0 10.5 M2893.5 1283.4 q-2.8 5.3 0 10.5 M2936.5 1283.4 q2.8 5.3 0 10.5 M2893.5 1294.0 q-2.8 5.3 0 10.5 M2936.5 1294.0 q2.8 5.3 0 10.5 M2893.5 1304.5 q-2.8 5.3 0 10.5 M2936.5 1304.5 q2.8 5.3 0 10.5 M2893.5 1315.0 q-2.8 5.3 0 10.5 M2936.5 1315.0 q2.8 5.3 0 10.5 M2893.5 1325.6 q-2.8 5.3 0 10.5 M2936.5 1325.6 q2.8 5.3 0 10.5 M2893.5 1336.1 q-2.8 5.3 0 10.5 M2936.5 1336.1 q2.8 5.3 0 10.5 M2893.5 1346.6 q-2.8 5.3 0 10.5 M2936.5 1346.6 q2.8 5.3 0 10.5 M2893.5 1357.2 q-2.8 5.3 0 10.5 M2936.5 1357.2 q2.8 5.3 0 10.5 M2893.5 1367.7 q-2.8 5.3 0 10.5 M2936.5 1367.7 q2.8 5.3 0 10.5 M2893.5 1378.2 q-2.8 5.3 0 10.5 M2936.5 1378.2 q2.8 5.3 0 10.5 M2893.5 1388.8 q-2.8 5.3 0 10.5 M2936.5 1388.8 q2.8 5.3 0 10.5 M2893.5 1399.3 q-2.8 5.3 0 10.5 M2936.5 1399.3 q2.8 5.3 0 10.5 M2893.5 1409.8 q-2.8 5.3 0 10.5 M2936.5 1409.8 q2.8 5.3 0 10.5 " stroke-width="2.4"/>
<path d="M2878.0 1235.3 A37.0 13.5 0 0 1 2952.0 1235.3 L2950.5 1254.3 A35.5 13.5 0 0 1 2879.5 1254.3 Z" class="wf" stroke-width="2.4"/>
<path d="M2878.0 1235.3 A37.0 13.5 0 0 0 2952.0 1235.3" stroke-width="2.4"/>
<path d="M3326.3 1223.5 L3326.3 1392.0 Q3347.8 1401.0 3369.3 1392.0 L3369.3 1223.5 Z" class="f" stroke-width="2.4"/>
<path d="M3332.3 1241.7 Q3349.9 1247.2 3365.0 1242.2 M3332.3 1252.2 Q3349.9 1257.7 3365.0 1252.8 M3332.3 1262.8 Q3349.9 1268.3 3365.0 1263.3 M3332.3 1273.3 Q3349.9 1278.8 3365.0 1273.8 M3332.3 1283.8 Q3349.9 1289.3 3365.0 1284.4 M3332.3 1294.4 Q3349.9 1299.9 3365.0 1294.9 M3332.3 1304.9 Q3349.9 1310.4 3365.0 1305.4 M3332.3 1315.4 Q3349.9 1320.9 3365.0 1316.0 M3332.3 1326.0 Q3349.9 1331.5 3365.0 1326.5 M3332.3 1336.5 Q3349.9 1342.0 3365.0 1337.0 M3332.3 1347.0 Q3349.9 1352.5 3365.0 1347.6 M3332.3 1357.6 Q3349.9 1363.1 3365.0 1358.1 M3332.3 1368.1 Q3349.9 1373.6 3365.0 1368.6 M3332.3 1378.6 Q3349.9 1384.1 3365.0 1379.2 M3332.3 1389.2 Q3349.9 1394.7 3365.0 1389.7 " style="stroke:#d8d4d0;stroke-width:1.3"/>
<path d="M3326.3 1237.0 q-2.8 5.3 0 10.5 M3369.3 1237.0 q2.8 5.3 0 10.5 M3326.3 1247.5 q-2.8 5.3 0 10.5 M3369.3 1247.5 q2.8 5.3 0 10.5 M3326.3 1258.0 q-2.8 5.3 0 10.5 M3369.3 1258.0 q2.8 5.3 0 10.5 M3326.3 1268.6 q-2.8 5.3 0 10.5 M3369.3 1268.6 q2.8 5.3 0 10.5 M3326.3 1279.1 q-2.8 5.3 0 10.5 M3369.3 1279.1 q2.8 5.3 0 10.5 M3326.3 1289.6 q-2.8 5.3 0 10.5 M3369.3 1289.6 q2.8 5.3 0 10.5 M3326.3 1300.2 q-2.8 5.3 0 10.5 M3369.3 1300.2 q2.8 5.3 0 10.5 M3326.3 1310.7 q-2.8 5.3 0 10.5 M3369.3 1310.7 q2.8 5.3 0 10.5 M3326.3 1321.2 q-2.8 5.3 0 10.5 M3369.3 1321.2 q2.8 5.3 0 10.5 M3326.3 1331.8 q-2.8 5.3 0 10.5 M3369.3 1331.8 q2.8 5.3 0 10.5 M3326.3 1342.3 q-2.8 5.3 0 10.5 M3369.3 1342.3 q2.8 5.3 0 10.5 M3326.3 1352.8 q-2.8 5.3 0 10.5 M3369.3 1352.8 q2.8 5.3 0 10.5 M3326.3 1363.4 q-2.8 5.3 0 10.5 M3369.3 1363.4 q2.8 5.3 0 10.5 M3326.3 1373.9 q-2.8 5.3 0 10.5 M3369.3 1373.9 q2.8 5.3 0 10.5 M3326.3 1384.4 q-2.8 5.3 0 10.5 M3369.3 1384.4 q2.8 5.3 0 10.5 " stroke-width="2.4"/>
<path d="M3310.8 1209.9 A37.0 13.5 0 0 1 3384.8 1209.9 L3383.3 1228.9 A35.5 13.5 0 0 1 3312.3 1228.9 Z" class="wf" stroke-width="2.4"/>
<path d="M3310.8 1209.9 A37.0 13.5 0 0 0 3384.8 1209.9" stroke-width="2.4"/>
<path d="M2898.0 1234.2 l8 -4.5 l18 0 l8 4.5 l-8 4.5 l-18 0 Z M2908.0 1233.2 l14 0 l0 5 l-14 0 Z" stroke-width="1.8"/>
<path d="M3330.8 1208.8 l8 -4.5 l18 0 l8 4.5 l-8 4.5 l-18 0 Z M3340.8 1207.8 l14 0 l0 5 l-14 0 Z" stroke-width="1.8"/>
<path d="M 3616.2 1081.7 L 3667.4 1030.6 L 3972.5 1114.5 C 3991.9 1119.8 4000.7 1130.4 3999.3 1146.3 L 3998.6 1195.7 C 3997.9 1209.8 3981.3 1220.4 3958.4 1220.4 L 3916.0 1214.4 L 3614.5 1132.2 Z" stroke-width="2.6" class="wf"/>
<path d="M 3616.2 1081.7 L 3916.0 1163.9 C 3940.7 1171.0 3965.4 1172.7 3981.3 1167.4 C 3991.9 1163.9 3997.9 1155.1 3999.3 1144.5" stroke-width="2.6"/>
<path d="M3916.0 1163.9 L3916.0 1214.4" stroke-width="2.6"/>
<path d="M 3305.8 1035.9 L 3615.5 1120.5 L 3615.5 1098.7 L 3365.8 1021.1 L 3293.5 1004.1 C 3288.2 1012.2 3288.2 1028.1 3305.8 1035.9 Z" stroke-width="2.6" class="wf"/>
<path d="M 3316.4 1041.5 L 3614.8 1126.2" stroke-width="2.08"/>
<path d="M 3305.8 1035.9 L 3615.5 1120.5" stroke-width="2.6"/>
<path d="M 3310.1 1008.7 L 3310.1 1021.1 M 3318.2 1010.5 L 3318.2 1026.3 M 3326.3 1012.2 L 3326.3 1028.1 M 3334.4 1013.3 L 3334.4 1028.8 M 3342.5 1014.7 L 3342.5 1028.1 M 3350.6 1016.1 L 3350.6 1027.4 M 3358.7 1017.5 L 3358.7 1024.6" stroke-width="2.3400000000000003"/>
<path d="M 3305.8 1020.4 L 3316.4 1028.1 L 3324.2 1022.8 L 3332.3 1029.9 L 3340.4 1024.6 L 3348.1 1030.2 L 3356.6 1025.3 L 3363.0 1028.1" stroke-width="2.3400000000000003"/>
<path d="M 3369.3 1023.5 L 3454.0 1045.7 L 3452.2 1049.3 L 3411.6 1039.4 Z" stroke-width="1.5" class="f"/>
<path d="M 3365.8 1021.1 L 3616.2 1088.8" stroke-width="2.6"/>
<path d="M 3385.2 961.1 L 3655.0 1033.4 L 3616.2 1082.8 L 3304.1 999.2 C 3288.2 992.8 3286.4 978.7 3294.5 969.9 Z" stroke-width="2.6" class="wf"/>
<path d="M 3426.5 998.1 C 3425.7 985.8 3446.9 983.0 3462.8 988.6 C 3471.6 992.8 3469.8 1003.4 3461.0 1010.5 C 3452.2 1018.2 3432.8 1018.2 3427.5 1012.2 Z" stroke-width="2.6" class="wf"/>
<ellipse cx="3444.1" cy="998.5" rx="15.2" ry="7.4" stroke-width="6.4" style="stroke:#b2b2b2"/>
<ellipse cx="3442.7" cy="994.3" rx="9.5" ry="4.6" stroke-width="2.3400000000000003" class="wf"/>
<path d="M 3429.3 1008.7 L 3429.3 1013.3 C 3436.3 1017.5 3448.7 1017.5 3454.7 1013.3" stroke-width="2.3400000000000003"/>
<path d="M 3322.8 959.3 L 3322.8 979.4 C 3327.0 986.5 3351.7 986.5 3357.0 979.4 L 3357.0 959.3 Z" stroke-width="2.6" class="wf"/>
<path d="M 3312.9 1040.5 L 3312.9 1091.6 C 3319.9 1100.4 3362.3 1101.5 3371.1 1093.4 L 3371.1 1057.0" stroke-width="2.6" class="wf"/>
<path d="M 3312.9 1040.5 L 3371.1 1057.0" stroke-width="0.1"/>
<path d="M 3327.7 1100.4 L 3327.7 1167.4 L 3341.1 1174.5 L 3355.2 1169.2 L 3355.2 1101.5 Z" stroke-width="2.6" class="wf"/>
<path d="M3338.3 1102.2 L3338.3 1172.7" stroke-width="2.3400000000000003"/>
<path d="M 3291.4 902.2 L 3291.4 943.5 C 3292.4 959.3 3316.4 969.9 3341.1 969.9 C 3365.8 969.9 3389.8 959.3 3390.8 943.5 L 3390.8 902.2 Z" stroke-width="2.6" class="f"/>
<path d="M 3305.8 926.5 L 3305.8 959.0" stroke-width="1.0" style="stroke:#6a6a6c"/>
<path d="M 3313.6 929.7 L 3313.6 962.2" stroke-width="1.0" style="stroke:#6a6a6c"/>
<path d="M 3321.7 932.2 L 3321.7 964.6" stroke-width="1.0" style="stroke:#6a6a6c"/>
<path d="M 3329.8 933.6 L 3329.8 966.0" stroke-width="1.0" style="stroke:#6a6a6c"/>
<path d="M 3338.3 933.9 L 3338.3 966.4" stroke-width="1.0" style="stroke:#6a6a6c"/>
<path d="M 3348.1 933.9 L 3348.1 966.4" stroke-width="1.0" style="stroke:#6a6a6c"/>
<path d="M 3358.0 932.5 L 3358.0 965.0" stroke-width="1.0" style="stroke:#6a6a6c"/>
<path d="M 3365.8 930.8 L 3365.8 963.2" stroke-width="1.0" style="stroke:#6a6a6c"/>
<path d="M 3374.6 927.2 L 3374.6 959.7" stroke-width="1.0" style="stroke:#6a6a6c"/>
<path d="M 3381.7 923.4 L 3381.7 955.8" stroke-width="1.0" style="stroke:#6a6a6c"/>
<ellipse cx="3341.1" cy="902.2" rx="49.7" ry="24.7" stroke-width="2.6" class="wf"/>
<ellipse cx="3340.4" cy="895.8" rx="26.8" ry="12.7" stroke-width="6.4" style="stroke:#b2b2b2;fill:#fefefe"/>
<path d="M 3319.9 887.0 L 3319.9 892.7 C 3324.2 904.0 3355.2 904.0 3360.1 892.7 L 3360.1 887.0" stroke-width="2.3400000000000003" class="wf"/>
<ellipse cx="3340.0" cy="887.0" rx="20.1" ry="10.2" stroke-width="2.3400000000000003" class="wf"/>
<path d="M3141 1098 L2957 1247" stroke-width="2.2"/>
<path d="M3141 1098 L3318 1242" stroke-width="2.2"/>
<path d="M3138.6 1350 L3138.6 1537" stroke-width="2.2"/>
<circle cx="2954.5" cy="1246.0" r="8.5" class="f" stroke-width="1"/>
<circle cx="3318.0" cy="1243.0" r="8.5" class="f" stroke-width="1"/>
<circle cx="3138.6" cy="1537.0" r="8.5" class="f" stroke-width="1"/>
<text x="3141.5" y="1092.5" font-size="74" class="lb" text-anchor="middle">A</text>
<text x="3146.5" y="1335.5" font-size="77" class="lb" text-anchor="middle">D</text>
<text x="0" y="0" font-size="77" class="lb" text-anchor="middle" transform="translate(3763.5 1031.6) scale(0.88 1)">E</text>
</g>
<g id="icons">
<g transform="translate(732.2 167.3) rotate(24.2)">
<path d="M0 -34.0 L330 -34.0 L330 34.0 L0 34.0 A14 34.0 0 0 1 0 -34.0 Z" style="fill:#bdb9b5" stroke-width="3"/>
<path d="M4.0 -34.0 A21 34.0 0 0 0 4.0 34.0 M9.2 -34.0 A21 34.0 0 0 0 9.2 34.0 M14.3 -34.0 A21 34.0 0 0 0 14.3 34.0 M19.5 -34.0 A21 34.0 0 0 0 19.5 34.0 M24.6 -34.0 A21 34.0 0 0 0 24.6 34.0 M29.8 -34.0 A21 34.0 0 0 0 29.8 34.0 M34.9 -34.0 A21 34.0 0 0 0 34.9 34.0 M40.1 -34.0 A21 34.0 0 0 0 40.1 34.0 M45.2 -34.0 A21 34.0 0 0 0 45.2 34.0 M50.4 -34.0 A21 34.0 0 0 0 50.4 34.0 M55.5 -34.0 A21 34.0 0 0 0 55.5 34.0 M60.7 -34.0 A21 34.0 0 0 0 60.7 34.0 M65.8 -34.0 A21 34.0 0 0 0 65.8 34.0 M71.0 -34.0 A21 34.0 0 0 0 71.0 34.0 M76.1 -34.0 A21 34.0 0 0 0 76.1 34.0 M81.2 -34.0 A21 34.0 0 0 0 81.2 34.0 M86.4 -34.0 A21 34.0 0 0 0 86.4 34.0 M91.6 -34.0 A21 34.0 0 0 0 91.6 34.0 M96.7 -34.0 A21 34.0 0 0 0 96.7 34.0 M101.9 -34.0 A21 34.0 0 0 0 101.9 34.0 M107.0 -34.0 A21 34.0 0 0 0 107.0 34.0 M112.2 -34.0 A21 34.0 0 0 0 112.2 34.0 M117.3 -34.0 A21 34.0 0 0 0 117.3 34.0 M122.5 -34.0 A21 34.0 0 0 0 122.5 34.0 M127.6 -34.0 A21 34.0 0 0 0 127.6 34.0 M132.8 -34.0 A21 34.0 0 0 0 132.8 34.0 M137.9 -34.0 A21 34.0 0 0 0 137.9 34.0 M143.1 -34.0 A21 34.0 0 0 0 143.1 34.0 M148.2 -34.0 A21 34.0 0 0 0 148.2 34.0 M153.4 -34.0 A21 34.0 0 0 0 153.4 34.0 M158.5 -34.0 A21 34.0 0 0 0 158.5 34.0 M163.7 -34.0 A21 34.0 0 0 0 163.7 34.0 M168.8 -34.0 A21 34.0 0 0 0 168.8 34.0 M174.0 -34.0 A21 34.0 0 0 0 174.0 34.0 M179.1 -34.0 A21 34.0 0 0 0 179.1 34.0 M184.2 -34.0 A21 34.0 0 0 0 184.2 34.0 M189.4 -34.0 A21 34.0 0 0 0 189.4 34.0 M194.6 -34.0 A21 34.0 0 0 0 194.6 34.0 M199.7 -34.0 A21 34.0 0 0 0 199.7 34.0 M204.9 -34.0 A21 34.0 0 0 0 204.9 34.0 M210.0 -34.0 A21 34.0 0 0 0 210.0 34.0 M215.2 -34.0 A21 34.0 0 0 0 215.2 34.0 M220.3 -34.0 A21 34.0 0 0 0 220.3 34.0 M225.5 -34.0 A21 34.0 0 0 0 225.5 34.0 M230.6 -34.0 A21 34.0 0 0 0 230.6 34.0 M235.8 -34.0 A21 34.0 0 0 0 235.8 34.0 M240.9 -34.0 A21 34.0 0 0 0 240.9 34.0 M246.1 -34.0 A21 34.0 0 0 0 246.1 34.0 M251.2 -34.0 A21 34.0 0 0 0 251.2 34.0 M256.4 -34.0 A21 34.0 0 0 0 256.4 34.0 M261.5 -34.0 A21 34.0 0 0 0 261.5 34.0 M266.7 -34.0 A21 34.0 0 0 0 266.7 34.0 M271.8 -34.0 A21 34.0 0 0 0 271.8 34.0 M277.0 -34.0 A21 34.0 0 0 0 277.0 34.0 M282.1 -34.0 A21 34.0 0 0 0 282.1 34.0 M287.2 -34.0 A21 34.0 0 0 0 287.2 34.0 M292.4 -34.0 A21 34.0 0 0 0 292.4 34.0 M297.6 -34.0 A21 34.0 0 0 0 297.6 34.0 M302.7 -34.0 A21 34.0 0 0 0 302.7 34.0 M307.9 -34.0 A21 34.0 0 0 0 307.9 34.0 " stroke-width="2.9"/>
<ellipse cx="345" cy="1" rx="48" ry="71" class="wf" stroke-width="3.2"/>
<ellipse cx="350.5" cy="1.2" rx="48" ry="71" class="wf" stroke-width="3"/>
<ellipse cx="356" cy="1.5" rx="48" ry="71" class="wf" stroke-width="3.2"/>
<ellipse cx="362" cy="2" rx="39" ry="58.5" stroke-width="3"/>
</g>
<path d="M1071.8 294 L1084.1 307.3 L1079.4 331.9 L1056.6 345.2 L1047.1 331 L1051.9 309.2 Z" stroke-width="2.6"/>
<path d="M1050.9 322.4 L1077.5 331 L1079.4 331.9" stroke-width="2.4"/>
<path d="M1077.5 331 L1076.5 301.6 L1071.8 294" stroke-width="2.2"/>
<path d="M 1365.8 229.4 L 1567.3 202.6 L 1567.7 281.7 L 1419.6 303.6 L 1365.8 229.4 Z" stroke-width="2.9" class="wf"/>
<path d="M 1563.3 203.9 L 1563.3 282.3" stroke-width="2.2"/>
<path d="M 1355.8 186.9 L 1537.8 160.1 C 1543.6 159.2 1548.2 161.4 1550.9 166.1 L 1570.6 191.6 C 1572.5 196.0 1569.5 199.3 1565.5 198.9 L 1357.6 225.2 Z" stroke-width="2.9" class="wf"/>
<path d="M 1358.6 191.1 L 1538.2 164.6 C 1542.7 164.3 1545.5 165.7 1547.7 168.7 L 1565.2 192.0" stroke-width="2.2"/>
<path d="M 1361.3 229.4 L 1566.4 202.9" stroke-width="2.2"/>
<path d="M 1259.2 208.4 L 1259.2 295.0 L 1351.3 421.8 L 1425.5 414.5 L 1426.0 323.3 L 1350.4 331.5 Z" stroke-width="2.9" class="wf"/>
<path d="M 1350.4 334.2 L 1350.4 420.8 M 1359.8 335.1 L 1359.8 420.8 M 1420.0 327.8 L 1420.0 414.5" stroke-width="2.4"/>
<path d="M 1255.5 210.2 C 1253.7 205.7 1257.4 202.0 1261.9 202.9 L 1357.6 226.3 L 1423.3 319.6 C 1429.7 321.1 1430.6 326.9 1426.6 328.8 L 1358.6 336.1 C 1352.2 337.0 1348.5 334.2 1346.7 329.7 Z" stroke-width="2.9" class="wf"/>
<path d="M 1267.4 207.5 L 1355.8 327.8 C 1357.6 330.6 1360.4 331.5 1364.0 330.6 L 1421.5 323.7" stroke-width="2.2"/>
<path d="M 1353.1 224.8 L 1418.7 317.8" stroke-width="2.2"/>
<ellipse cx="1363.1" cy="289.0" rx="27.5" ry="14.5" transform="rotate(8 1363.1 289.0)" class="wf" stroke-width="2.8"/>
<path d="M 1343.1 301.4 C 1357.6 305.1 1375.9 303.2 1385.0 295.9" stroke-width="2.4"/>
<ellipse cx="1475.3" cy="188.4" rx="29.5" ry="13.5" transform="rotate(-6 1475.3 188.4)" class="wf" stroke-width="2.8"/>
<path d="M 1463.8 177.8 L 1464.1 199.3 M 1471.8 176.7 L 1472.2 200.0" stroke-width="2.4"/>
<ellipse cx="1308.4" cy="248.5" rx="6.6" ry="5" class="wf" stroke-width="2.4"/>
<ellipse cx="1318.4" cy="264.0" rx="6.6" ry="5" class="wf" stroke-width="2.4"/>
<ellipse cx="1354.0" cy="241.2" rx="6.6" ry="5" class="wf" stroke-width="2.4"/>
<ellipse cx="1364.9" cy="255.8" rx="6.6" ry="5" class="wf" stroke-width="2.4"/>
<ellipse cx="1348.5" cy="306.9" rx="6.6" ry="5" class="wf" stroke-width="2.4"/>
<ellipse cx="1360.4" cy="321.5" rx="6.6" ry="5" class="wf" stroke-width="2.4"/>
<ellipse cx="1396.8" cy="300.5" rx="6.6" ry="5" class="wf" stroke-width="2.4"/>
<ellipse cx="1407.8" cy="315.1" rx="6.6" ry="5" class="wf" stroke-width="2.4"/>
<ellipse cx="1370.4" cy="191.1" rx="6.6" ry="5" class="wf" stroke-width="2.4"/>
<ellipse cx="1405.1" cy="185.6" rx="6.6" ry="5" class="wf" stroke-width="2.4"/>
<ellipse cx="1386.8" cy="210.2" rx="6.6" ry="5" class="wf" stroke-width="2.4"/>
<ellipse cx="1419.6" cy="204.8" rx="6.6" ry="5" class="wf" stroke-width="2.4"/>
<ellipse cx="1502.6" cy="171.0" rx="6.6" ry="5" class="wf" stroke-width="2.4"/>
<ellipse cx="1536.3" cy="165.6" rx="6.6" ry="5" class="wf" stroke-width="2.4"/>
<ellipse cx="1517.2" cy="191.1" rx="6.6" ry="5" class="wf" stroke-width="2.4"/>
<ellipse cx="1549.1" cy="185.6" rx="6.6" ry="5" class="wf" stroke-width="2.4"/>
<path d="M1272.5 194.1 L1272.5 222.9 L1273.0 221.1 L1274.5 226.4 L1276.9 224.5 L1280.2 229.6 L1284.3 227.4 L1289.2 232.2 L1294.6 229.5 L1300.5 233.8 L1306.6 230.6 L1313.0 234.4 L1319.3 230.6 L1325.5 233.8 L1331.4 229.5 L1336.8 232.2 L1341.6 227.4 L1345.7 229.6 L1349.1 224.5 L1351.5 226.4 L1353.0 221.1 L1353.5 222.9 L1353.5 194.1 C1353.5 179.7 1335.2 172.2 1313.0 172.2 C1290.7 172.2 1272.5 179.7 1272.5 194.1 Z" class="wf" stroke-width="2.7"/>
<path d="M1274.5 201.2 L1274.5 226.4 M1280.2 204.4 L1280.2 229.6 M1289.2 207.0 L1289.2 232.2 M1300.5 208.6 L1300.5 233.8 M1313.0 209.2 L1313.0 234.4 M1325.5 208.6 L1325.5 233.8 M1336.8 207.0 L1336.8 232.2 M1345.7 204.4 L1345.7 229.6 M1351.5 201.2 L1351.5 226.4 M1272.5 196.2 Q1273.5 210.3 1274.5 199.8 M1274.5 199.8 Q1277.3 213.6 1280.2 203.0 M1280.2 203.0 Q1284.7 216.5 1289.2 205.6 M1289.2 205.6 Q1294.8 218.6 1300.5 207.2 M1300.5 207.2 Q1306.7 219.7 1313.0 207.7 M1313.0 207.7 Q1319.2 219.7 1325.5 207.2 M1325.5 207.2 Q1331.1 218.6 1336.8 205.6 M1336.8 205.6 Q1341.3 216.5 1345.7 203.0 M1345.7 203.0 Q1348.6 213.6 1351.5 199.8 M1351.5 199.8 Q1352.5 210.3 1353.5 196.2 " stroke-width="2.43"/>
<ellipse cx="1313.0" cy="180.1" rx="7.5" ry="4" class="wf" stroke-width="2.4"/>
<path d="M 1943.6 280.7 L 1976.3 247.5 L 2171.6 302.0 C 2184.0 305.5 2189.7 312.3 2188.7 322.7 L 2188.3 354.8 C 2187.8 363.9 2177.2 370.8 2162.6 370.8 L 2135.5 366.9 L 1942.5 313.5 Z" stroke-width="2.9" class="wf"/>
<path d="M 1943.6 280.7 L 2135.5 334.1 C 2151.3 338.7 2167.1 339.9 2177.2 336.4 C 2184.0 334.1 2187.8 328.4 2188.7 321.5" stroke-width="2.9"/>
<path d="M2135.5 334.1 L2135.5 366.9" stroke-width="2.9"/>
<path d="M 1744.9 250.9 L 1943.1 305.9 L 1943.1 291.7 L 1783.3 241.3 L 1737.0 230.3 C 1733.6 235.5 1733.6 245.8 1744.9 250.9 Z" stroke-width="2.9" class="wf"/>
<path d="M 1751.7 254.6 L 1942.7 309.6" stroke-width="2.32"/>
<path d="M 1744.9 250.9 L 1943.1 305.9" stroke-width="2.9"/>
<path d="M 1747.6 233.2 L 1747.6 241.3 M 1752.8 234.4 L 1752.8 244.7 M 1758.0 235.5 L 1758.0 245.8 M 1763.2 236.2 L 1763.2 246.3 M 1768.4 237.1 L 1768.4 245.8 M 1773.6 238.1 L 1773.6 245.4 M 1778.8 239.0 L 1778.8 243.6" stroke-width="2.61"/>
<path d="M 1744.9 240.8 L 1751.7 245.8 L 1756.7 242.4 L 1761.9 247.0 L 1767.0 243.6 L 1772.0 247.2 L 1777.4 244.0 L 1781.5 245.8" stroke-width="2.61"/>
<path d="M 1785.6 242.9 L 1839.7 257.3 L 1838.6 259.6 L 1812.6 253.2 Z" stroke-width="1.5" class="f"/>
<path d="M 1783.3 241.3 L 1943.6 285.3" stroke-width="2.9"/>
<path d="M 1795.7 202.3 L 1968.4 249.3 L 1943.6 281.4 L 1743.8 227.0 C 1733.6 222.9 1732.5 213.7 1737.7 208.0 Z" stroke-width="2.9" class="wf"/>
<path d="M 1822.1 226.4 C 1821.7 218.3 1835.2 216.5 1845.4 220.2 C 1851.0 222.9 1849.9 229.8 1844.3 234.4 C 1838.6 239.4 1826.2 239.4 1822.8 235.5 Z" stroke-width="2.9" class="wf"/>
<ellipse cx="1833.4" cy="226.6" rx="9.7" ry="4.8" stroke-width="4.992000000000001" style="stroke:#b2b2b2"/>
<ellipse cx="1832.5" cy="223.8" rx="6.1" ry="3.0" stroke-width="2.61" class="wf"/>
<path d="M 1823.9 233.2 L 1823.9 236.2 C 1828.5 239.0 1836.4 239.0 1840.2 236.2" stroke-width="2.61"/>
<path d="M 1755.8 201.1 L 1755.8 214.2 C 1758.5 218.8 1774.3 218.8 1777.7 214.2 L 1777.7 201.1 Z" stroke-width="2.9" class="wf"/>
<path d="M 1749.4 253.9 L 1749.4 287.1 C 1754.0 292.8 1781.0 293.5 1786.7 288.3 L 1786.7 264.6" stroke-width="2.9" class="wf"/>
<path d="M 1749.4 253.9 L 1786.7 264.6" stroke-width="0.1"/>
<path d="M 1758.9 292.8 L 1758.9 336.4 L 1767.5 341.0 L 1776.5 337.6 L 1776.5 293.5 Z" stroke-width="2.9" class="wf"/>
<path d="M1765.7 294.0 L1765.7 339.9" stroke-width="2.61"/>
<path d="M 1735.7 164.0 L 1735.7 190.8 C 1736.3 201.1 1751.7 208.0 1767.5 208.0 C 1783.3 208.0 1798.7 201.1 1799.3 190.8 L 1799.3 164.0 Z" stroke-width="2.9" class="f"/>
<path d="M 1744.9 179.8 L 1744.9 200.9" stroke-width="1.0" style="stroke:#6a6a6c"/>
<path d="M 1749.9 181.9 L 1749.9 203.0" stroke-width="1.0" style="stroke:#6a6a6c"/>
<path d="M 1755.1 183.5 L 1755.1 204.6" stroke-width="1.0" style="stroke:#6a6a6c"/>
<path d="M 1760.3 184.4 L 1760.3 205.5" stroke-width="1.0" style="stroke:#6a6a6c"/>
<path d="M 1765.7 184.6 L 1765.7 205.7" stroke-width="1.0" style="stroke:#6a6a6c"/>
<path d="M 1772.0 184.6 L 1772.0 205.7" stroke-width="1.0" style="stroke:#6a6a6c"/>
<path d="M 1778.3 183.7 L 1778.3 204.8" stroke-width="1.0" style="stroke:#6a6a6c"/>
<path d="M 1783.3 182.6 L 1783.3 203.7" stroke-width="1.0" style="stroke:#6a6a6c"/>
<path d="M 1788.9 180.3 L 1788.9 201.4" stroke-width="1.0" style="stroke:#6a6a6c"/>
<path d="M 1793.5 177.8 L 1793.5 198.8" stroke-width="1.0" style="stroke:#6a6a6c"/>
<ellipse cx="1767.5" cy="164.0" rx="31.8" ry="16.0" stroke-width="2.9" class="wf"/>
<ellipse cx="1767.0" cy="159.9" rx="17.2" ry="8.3" stroke-width="4.992000000000001" style="stroke:#b2b2b2;fill:#fefefe"/>
<path d="M 1754.0 154.1 L 1754.0 157.8 C 1756.7 165.1 1776.5 165.1 1779.7 157.8 L 1779.7 154.1" stroke-width="2.61" class="wf"/>
<ellipse cx="1766.8" cy="154.1" rx="12.9" ry="6.6" stroke-width="2.61" class="wf"/>
</g>
</svg>
</body></html>
